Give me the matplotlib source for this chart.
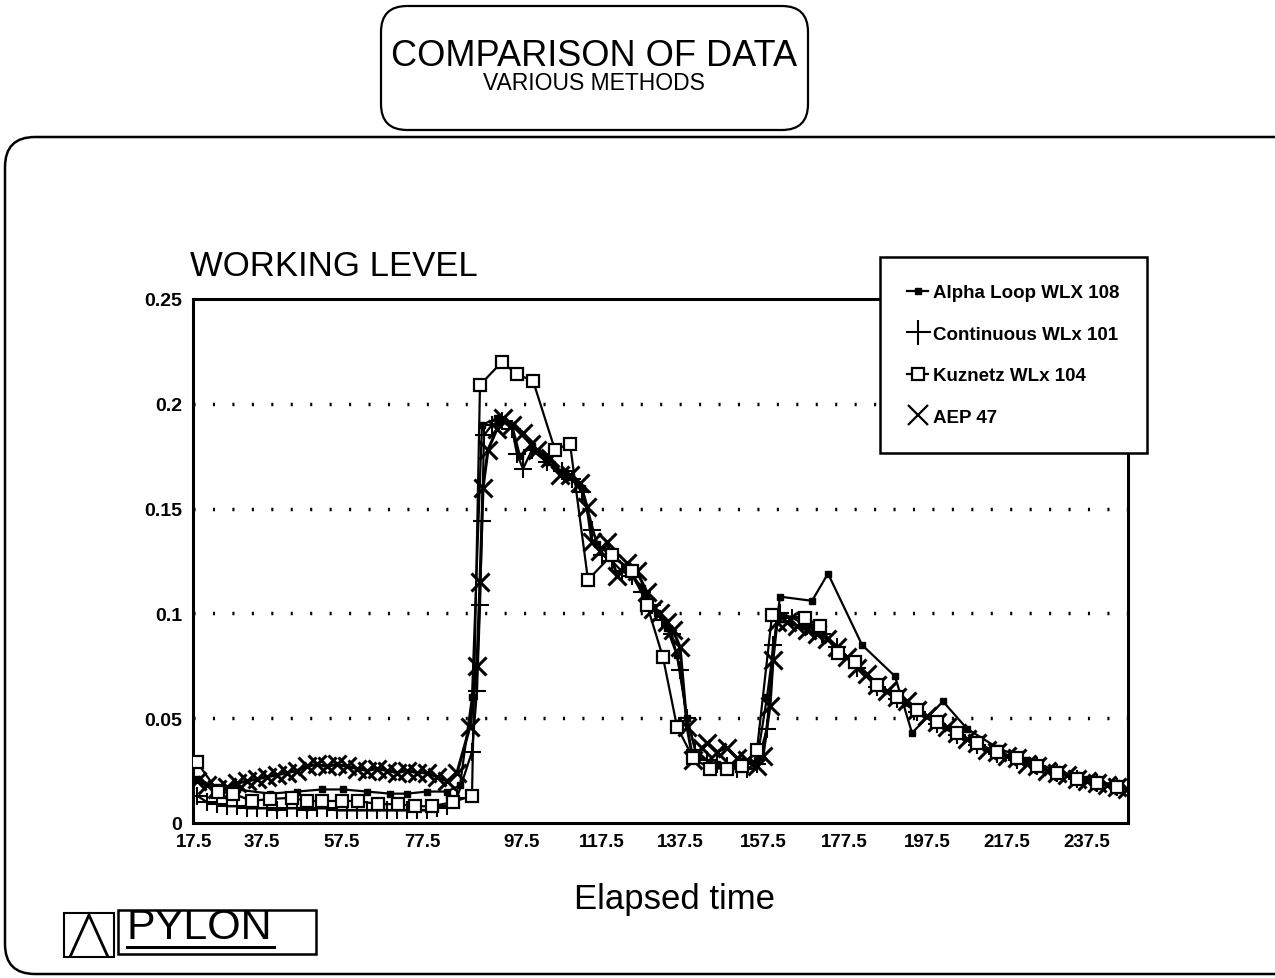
import matplotlib
matplotlib.use("Agg")
import matplotlib.pyplot as plt
from matplotlib.patches import FancyBboxPatch, Rectangle, Polygon
from matplotlib.lines import Line2D
from matplotlib.transforms import IdentityTransform

plt.rcParams['font.family'] = ['Liberation Sans', 'DejaVu Sans']

# category axis: x is the sample number, labels every few samples
xtick_pos = [-0.3, 6.5, 14.5, 22.5, 32.5, 40.5, 48.3, 56.6, 64.7, 73.0, 81.0, 89.0]
xtick_lab = ['17.5', '37.5', '57.5', '77.5', '97.5', '117.5', '137.5',
             '157.5', '177.5', '197.5', '217.5', '237.5']
ytick_pos = [0, 0.05, 0.1, 0.15, 0.2, 0.25]
ytick_lab = ['0', '0.05', '0.1', '0.15', '0.2', '0.25']

# AEP 47
aep_x = list(range(0, 27)) + [
    27.3, 28.0, 28.3, 28.6, 29.1, 30.0, 30.6, 31.5, 32.6, 33.4,
    34.0, 35.3, 36.3, 37.3, 38.3, 39.0, 39.5, 40.3, 41.0, 42.0,
    43.0, 44.0, 45.0, 45.6, 46.3, 47.0, 47.6, 48.3, 49.0, 49.6,
    50.5, 51.0, 52.0, 53.0, 54.0, 55.0, 56.0, 56.6, 57.3, 57.6,
    58.0] + list(range(59, 94))
aep_y = [0.020, 0.018, 0.016, 0.017, 0.019, 0.020, 0.021, 0.022, 0.023, 0.024,
         0.025, 0.027, 0.028, 0.027, 0.028, 0.027, 0.026, 0.025, 0.026, 0.025,
         0.024, 0.025, 0.024, 0.024, 0.022, 0.020, 0.024,
         0.046, 0.075, 0.115, 0.160, 0.178, 0.188, 0.193, 0.190, 0.186, 0.181,
         0.178, 0.174, 0.166, 0.166, 0.162, 0.151, 0.134, 0.130, 0.134, 0.118,
         0.124, 0.120, 0.110, 0.102, 0.100, 0.096, 0.092, 0.084, 0.046, 0.030,
         0.036, 0.038, 0.034, 0.036, 0.031, 0.030, 0.027, 0.032, 0.056, 0.078,
         0.096,
         0.096, 0.094, 0.092, 0.090, 0.088, 0.084, 0.079, 0.074, 0.071, 0.066,
         0.063, 0.060, 0.058, 0.054, 0.051, 0.048, 0.046, 0.043, 0.040, 0.038,
         0.035, 0.034, 0.032, 0.031, 0.028, 0.027, 0.025, 0.024, 0.023, 0.021,
         0.020, 0.019, 0.018, 0.017, 0.016]

# Continuous WLx 101
cont_x = list(range(0, 27)) + [
    27.5, 28.0, 28.3, 28.5, 28.7, 29.5, 30.5, 31.5, 32.0, 32.6,
    33.5, 35.0, 36.5, 37.5, 38.5, 39.5, 40.5, 41.5, 42.5, 43.5,
    44.5, 45.5, 46.5, 47.5, 48.3, 49.0, 49.8, 51, 52, 53,
    54, 55, 56, 57, 57.6, 58.3, 59.5, 61, 62.5, 64] + list(range(66, 94, 2))
cont_y = [0.013, 0.010, 0.009, 0.008, 0.008, 0.007, 0.007, 0.007, 0.006, 0.007,
          0.007, 0.006, 0.007, 0.007, 0.006, 0.006, 0.006, 0.006, 0.006, 0.006,
          0.006, 0.006, 0.006, 0.006, 0.007, 0.008, 0.012,
          0.034, 0.063, 0.104, 0.144, 0.185, 0.190, 0.192, 0.188, 0.176, 0.169,
          0.178, 0.172, 0.168, 0.164, 0.158, 0.140, 0.128, 0.125, 0.120, 0.118,
          0.110, 0.104, 0.097, 0.090, 0.073, 0.050, 0.035, 0.030, 0.028, 0.027,
          0.026, 0.026, 0.028, 0.045, 0.085, 0.100, 0.098, 0.094, 0.090, 0.084,
          0.074, 0.065, 0.059, 0.053, 0.047, 0.042, 0.037, 0.033, 0.030, 0.027,
          0.024, 0.021, 0.019, 0.017]

# Kuznetz WLx 104
kuz_x = [0, 2.1, 3.6, 5.5, 7.3, 9.5, 11.0, 12.5, 14.5, 16.1,
         18.1, 20.1, 21.8, 23.5, 25.6, 27.5, 28.3, 30.5, 32.0, 33.6, 35.8,
         37.3, 39.1, 41.5, 43.5, 45.0, 46.6, 48.0, 49.6, 51.3, 53.0,
         54.5, 56.0, 57.5, 60.8, 62.3, 64.1, 65.8, 68, 70, 72,
         74, 76, 78, 80, 82, 84, 86, 88, 90, 92]
kuz_y = [0.029, 0.015, 0.014, 0.0105, 0.0115, 0.012, 0.0105, 0.0105, 0.0105, 0.0105,
         0.009, 0.009, 0.008, 0.008, 0.010, 0.013, 0.209, 0.220, 0.214, 0.211, 0.178,
         0.181, 0.116, 0.128, 0.120, 0.104, 0.079, 0.046, 0.031, 0.026, 0.026,
         0.027, 0.035, 0.099, 0.098, 0.094, 0.081, 0.077, 0.066, 0.060, 0.054,
         0.048, 0.043, 0.038, 0.034, 0.031, 0.027, 0.024, 0.021, 0.019, 0.017]

# Alpha Loop WLX 108
alpha_x = [0, 2, 4, 7.3, 10, 12.5, 14.6, 17, 19.3, 21,
           23, 25, 26.3, 27.5, 28.5, 30, 31.5, 32.3, 33.5, 35,
           37, 38.5, 40, 41.5, 43, 44.5, 46, 47, 48, 49,
           50, 52, 54, 56, 57, 58.3, 61.5, 63.1, 66.5, 69.8,
           71.5, 74.6, 77, 80, 83, 86, 89, 92]
alpha_y = [0.021, 0.017, 0.016, 0.014, 0.015, 0.016, 0.016, 0.015, 0.014, 0.014,
           0.015, 0.015, 0.018, 0.060, 0.190, 0.193, 0.190, 0.175, 0.180, 0.172,
           0.165, 0.160, 0.133, 0.127, 0.122, 0.112, 0.100, 0.093, 0.080, 0.050,
           0.032, 0.028, 0.027, 0.030, 0.060, 0.108, 0.106, 0.119, 0.085, 0.070,
           0.043, 0.058, 0.045, 0.036, 0.030, 0.025, 0.021, 0.018]

labels = ['Alpha Loop WLX 108', 'Continuous WLx 101', 'Kuznetz WLx 104', 'AEP 47']

W, H = 1275, 979
fig = plt.figure(figsize=(W / 100, H / 100), dpi=100)
fig.patch.set_facecolor('white')

# outer frames (pixel coords, origin bottom left)
fig.add_artist(FancyBboxPatch((381, H - 131), 427, 124,
                              boxstyle='round,pad=0,rounding_size=26',
                              transform=IdentityTransform(), fc='none',
                              ec='black', lw=1.6))
fig.add_artist(FancyBboxPatch((5, 4), 1300, H - 142,
                              boxstyle='round,pad=0,rounding_size=30',
                              transform=IdentityTransform(), fc='none',
                              ec='black', lw=1.8))

fig.text(594 / W, 1 - 56 / H, 'COMPARISON OF DATA', ha='center', va='center',
         fontsize=26)
fig.text(594 / W, 1 - 84 / H, 'VARIOUS METHODS', ha='center', va='center',
         fontsize=16.5)
fig.text(190 / W, 1 - 267 / H, 'WORKING LEVEL', ha='left', va='center',
         fontsize=25)
fig.text(675 / W, 1 - 900 / H, 'Elapsed time', ha='center', va='center',
         fontsize=25)

ax = fig.add_axes([193 / W, 1 - 824 / H, 935 / W, 524 / H])
ax.set_facecolor('none')

for yv in ytick_pos[1:-1]:
    ax.axhline(yv, color='black', lw=2.5, ls=(0, (0.6, 5.0)), zorder=1)

ax.plot(aep_x, aep_y, color='black', lw=2.2, marker='x', ms=13, mew=2.2, zorder=3)
ax.plot(cont_x, cont_y, color='black', lw=1.6, marker='+', ms=13, mew=1.5, zorder=4)
ax.plot(alpha_x, alpha_y, color='black', lw=1.6, marker='s', ms=4, zorder=5)
ax.plot(kuz_x, kuz_y, color='black', lw=1.6, marker='s', ms=9, mew=1.6,
        mfc='white', zorder=6)

ax.set_xlim(-0.4, 93.1)
ax.set_ylim(0, 0.25)
ax.set_xticks(xtick_pos)
ax.set_xticklabels(xtick_lab, fontsize=13.5, fontweight='bold')
ax.set_yticks(ytick_pos)
ax.set_yticklabels(ytick_lab, fontsize=14, fontweight='bold')
ax.tick_params(axis='both', length=0)
ax.tick_params(axis='x', pad=7)
ax.tick_params(axis='y', pad=8)
for s in ax.spines.values():
    s.set_linewidth(2.2)

handles = [
    Line2D([], [], color='black', lw=1.6, marker='s', ms=4),
    Line2D([], [], color='black', lw=0, marker='+', ms=18, mew=1.5),
    Line2D([], [], color='black', lw=1.6, marker='s', ms=8, mew=1.6, mfc='white'),
    Line2D([], [], color='black', lw=0, marker='x', ms=15, mew=1.6),
]
leg = ax.legend(handles, labels, loc='upper left',
                bbox_to_anchor=(880 / W, 1 - 258 / H), bbox_transform=fig.transFigure,
                frameon=True, fancybox=False, framealpha=1, edgecolor='black',
                prop={'weight': 'bold', 'size': 13.5}, handlelength=1.1,
                handletextpad=0.3, labelspacing=1.3, borderpad=1.45,
                borderaxespad=0)
leg.get_frame().set_linewidth(1.8)
leg.set_zorder(10)

# logo in the bottom left corner
fig.add_artist(Rectangle((64, H - 958), 50, 44, transform=IdentityTransform(),
                         fc='none', ec='black', lw=1.5))
fig.add_artist(Polygon([(70, H - 958), (89, H - 916), (108, H - 958)], closed=False,
                       transform=IdentityTransform(), fc='none', ec='black', lw=2))
fig.add_artist(Rectangle((118, H - 955), 198, 44, transform=IdentityTransform(),
                         fc='none', ec='black', lw=1.8))
fig.text(126 / W, 1 - 928 / H, 'PYLON', ha='left', va='center', fontsize=31)
fig.add_artist(Rectangle((126, H - 950), 150, 3, transform=IdentityTransform(),
                         fc='black', ec='none'))

fig.savefig('out.png', dpi=100)
